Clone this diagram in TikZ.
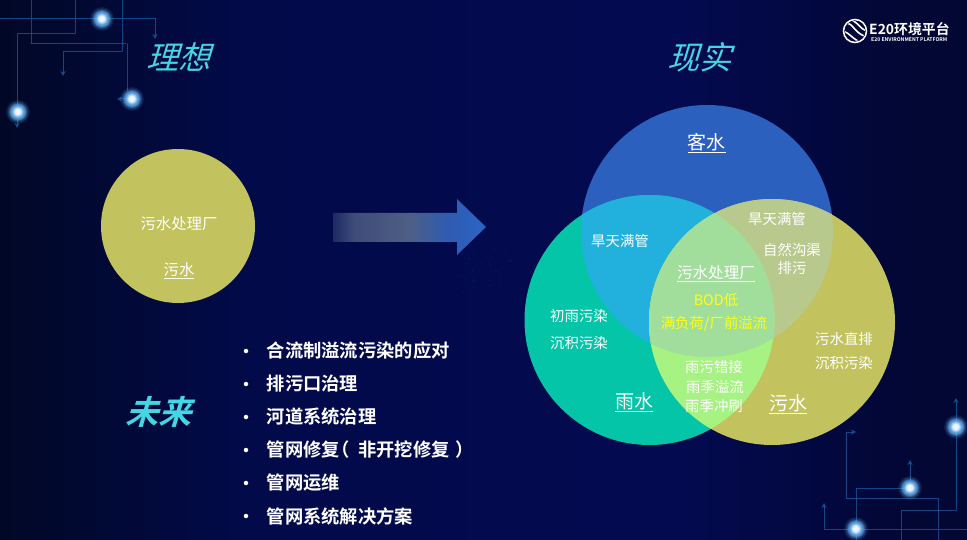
\documentclass[tikz,border=0pt]{standalone}
\usepackage{fontspec}
\setmainfont{Noto Sans CJK SC}
\newfontfamily\cjkreg{Noto Sans CJK SC}
\newfontfamily\cjkbold{Noto Sans CJK SC Bold}
\newfontfamily\cjkslant[FakeSlant=0.3]{Noto Sans CJK SC}
\newfontfamily\cjkslantb[FakeSlant=0.3]{Noto Sans CJK SC Bold}
\usetikzlibrary{arrows.meta}
\definecolor{bgA}{HTML}{010826}
\definecolor{bgB}{HTML}{020A4A}
\definecolor{bgC}{HTML}{030A50}
\definecolor{bgD}{HTML}{020734}
\definecolor{cB}{HTML}{2B60BE}
\definecolor{cG}{HTML}{05C5A8}
\definecolor{cY}{HTML}{C2C25E}
\definecolor{cBG}{HTML}{22B0DC}
\definecolor{cBY}{HTML}{B8C98E}
\definecolor{cGY}{HTML}{A6F283}
\definecolor{cALL}{HTML}{A2DE9B}
\definecolor{wire}{HTML}{174A8E}
\definecolor{speck}{HTML}{1D4AA0}
\definecolor{glowc}{HTML}{5FA8E8}
\definecolor{teal}{HTML}{45D6E6}
\definecolor{ar0}{HTML}{1E2A64}
\definecolor{ar1}{HTML}{3E4C78}
\definecolor{ar2}{HTML}{4E5F85}
\definecolor{ar3}{HTML}{2F5BB0}
\definecolor{ar4}{HTML}{2B64C6}
\definecolor{yel}{HTML}{FFFF10}
\pgfdeclarehorizontalshading{bgshade}{100bp}{color(0bp)=(bgA); color(25bp)=(bgA); color(38bp)=(bgB); color(60bp)=(bgC); color(72bp)=(bgD); color(75bp)=(bgD); color(100bp)=(bgD)}
\pgfdeclarehorizontalshading{arshade}{100bp}{color(0bp)=(ar0); color(25bp)=(ar0); color(32bp)=(ar1); color(50bp)=(ar2); color(62bp)=(ar3); color(75bp)=(ar4); color(100bp)=(ar4)}
\newcommand{\fs}[1]{\fontsize{#1}{#1}\selectfont}
\newcommand{\glowdot}[2]{%
  \foreach \r/\o in {12/0.12,10.5/0.2,9/0.35,8/0.5,7/0.6,6/0.6}{\fill[glowc,opacity=\o] (#1,#2) circle[radius=\r];}
  \fill[white,opacity=0.35] (#1,#2) circle[radius=5.5];
  \fill[white,opacity=0.5] (#1,#2) circle[radius=4.2];
  \fill[white,opacity=0.7] (#1,#2) circle[radius=3];
}
\tikzset{
  x=1pt,y=-1pt,
  lbl/.style={inner sep=0pt,text=white,font=\cjkreg\fs{14.4}},
  lblbig/.style={inner sep=0pt,text=white,font=\cjkreg\fs{19}},
  lblmid/.style={inner sep=0pt,text=white,font=\cjkreg\fs{15.6}},
  lblyel/.style={inner sep=0pt,text=yel,font=\cjkreg\fs{14.4}},
  bul/.style={inner sep=0pt,anchor=west,text=white,font=\cjkbold\fs{18.3}},
  bdot/.style={fill=white,draw=none,circle,minimum size=4.5pt,inner sep=0pt},
  head/.style={inner sep=0pt,text=teal,font=\cjkslant\fs{32}},
  wireline/.style={wire,line width=1pt,densely dotted,line cap=round},
  wirearrow/.style={wire,line width=1pt,-{Stealth[length=5pt,width=5pt]}},
}
\begin{document}
\begin{tikzpicture}
\useasboundingbox (0,0) rectangle (967,540);
\clip (0,0) rectangle (967,540);
\shade[shading=bgshade] (0,0) rectangle (967,540);

% circuit wires, top left
\draw[wireline] (0,19) -- (155,19) -- (155,34);
\draw[wireline] (122,0) -- (122,52) -- (63,52) -- (63,71);
\draw[wireline] (31,0) -- (31,44) -- (127,44) -- (127,92);
\draw[wireline] (75,0) -- (75,34) -- (17,34) -- (17,112);
\draw[wirearrow] (155,33) -- (155,39);
\draw[wirearrow] (63,70) -- (63,76);
\draw[wirearrow] (17,120) -- (17,128);
\draw[wirearrow] (124,99) -- (117,99);
\glowdot{102}{19}
\glowdot{132}{99}
\glowdot{18}{112}

% circuit wires, bottom right
\draw[wireline] (956,400) -- (956,510) -- (901,510) -- (901,540);
\draw[wireline] (967,529) -- (824,529) -- (824,510);
\draw[wireline] (856,540) -- (856,488) -- (910,488);
\draw[wireline] (851,432) -- (846,432) -- (846,498) -- (938,498) -- (938,540);
\draw[wirearrow] (824,512) -- (824,503);
\draw[wirearrow] (910,480) -- (910,460);
\draw[wirearrow] (851,432) -- (856,432);
\draw[wirearrow] (956,402) -- (956,398);
\glowdot{956}{427}
\glowdot{910}{488}
\glowdot{856}{529}

% halftone specks near the arrow
\pgfmathsetseed{11}
\foreach \i in {1,...,60}{
  \pgfmathsetmacro{\dx}{455+rnd*58}
  \pgfmathsetmacro{\dy}{248+rnd*48}
  \fill[speck,opacity=0.35] (\dx,\dy) circle[radius=0.5];
}

% block arrow
\shade[shading=arshade] (333,213) -- (457,213) -- (457,199) -- (486,227) -- (457,255) -- (457,242) -- (333,242) -- cycle;

% left circle
\fill[cY] (178,226) circle[radius=77];
\node[lblmid,font=\cjkreg\fs{15.4}] (plant) at (179,224) {污水处理厂};
\node[lblmid,font=\cjkreg\fs{15.4}] (sew) at (179,271) {\underline{污水}};

% Venn diagram
\def\cBlue{(707,231) circle[radius=126]}
\def\cGreen{(649.5,320) circle[radius=125]}
\def\cYellow{(772,322) circle[radius=123]}
\fill[cB] \cBlue;
\fill[cG] \cGreen;
\fill[cY] \cYellow;
\begin{scope}\clip \cBlue; \fill[cBG] \cGreen; \end{scope}
\begin{scope}\clip \cBlue; \fill[cBY] \cYellow; \end{scope}
\begin{scope}\clip \cGreen; \fill[cGY] \cYellow; \end{scope}
\begin{scope}\clip \cBlue; \clip \cGreen; \fill[cALL] \cYellow; \end{scope}

% Venn labels
\node[lblbig] (n1) at (706.5,143) {\underline{客水}};
\node[lbl] (n2) at (620,241) {旱天满管};
\node[lbl] (n3) at (777,219) {旱天满管};
\node[lbl] (n4) at (792,250) {自然沟渠};
\node[lbl] (n5) at (792,268) {排污};
\node[lblmid] (n6) at (716,274) {\underline{污水处理厂}};
\node[lblyel] (n7) at (716,300) {BOD低};
\node[lblyel] (n8) at (714,324) {满负荷/厂前溢流};
\node[lbl] (n9) at (579,316) {初雨污染};
\node[lbl] (n10) at (579,343) {沉积污染};
\node[lbl] (n11) at (844,339) {污水直排};
\node[lbl] (n12) at (844,363) {沉积污染};
\node[lbl] (n13) at (714,367) {雨污错接};
\node[lbl] (n14) at (715,387) {雨季溢流};
\node[lbl] (n15) at (714,406) {雨季冲刷};
\node[lblbig] (n16) at (634,402) {\underline{雨水}};
\node[lblbig] (n17) at (788,404) {\underline{污水}};

% headings
\node[head] (h1) at (178,57) {理想};
\node[head] (h2) at (699,57) {现实};
\node[head,font=\cjkslantb\fs{33},text=teal] (h3) at (158,412) {未来};

% bullets
\foreach \yy/\txt in {351/合流制溢流污染的应对,384/排污口治理,417/河道系统治理,450/管网修复\hspace{-8pt}（\hspace{8pt}非开挖修复\hspace{6pt}）,483/管网运维,516/管网系统解决方案}{
  \node[bdot] at (246,\yy) {};
  \node[bul] at (266.5,\yy) {\txt};
}

% logo
\draw[white,line width=1.5pt] (855,31) circle[radius=11.5];
\begin{scope}
  \clip (855,31) circle[radius=10];
  \draw[white,line width=1.6pt] (846,23) .. controls (854,24) and (853,31) .. (864,36);
  \draw[white,line width=1.6pt] (848,19) .. controls (860,22) and (858,29) .. (868,31);
  \draw[white,line width=1.6pt] (843,31) .. controls (850,33) and (852,39) .. (862,43);
\end{scope}
\node[inner sep=0pt,anchor=west,text=white,font=\cjkbold\fs{13.9}] (logo) at (869,29.5) {E20环境平台};
\node[inner sep=0pt,anchor=west,text=white,font=\cjkbold\fs{5.1}] (logos) at (871,40) {E20 ENVIRONMENT PLATFORM};
\end{tikzpicture}
\end{document}
